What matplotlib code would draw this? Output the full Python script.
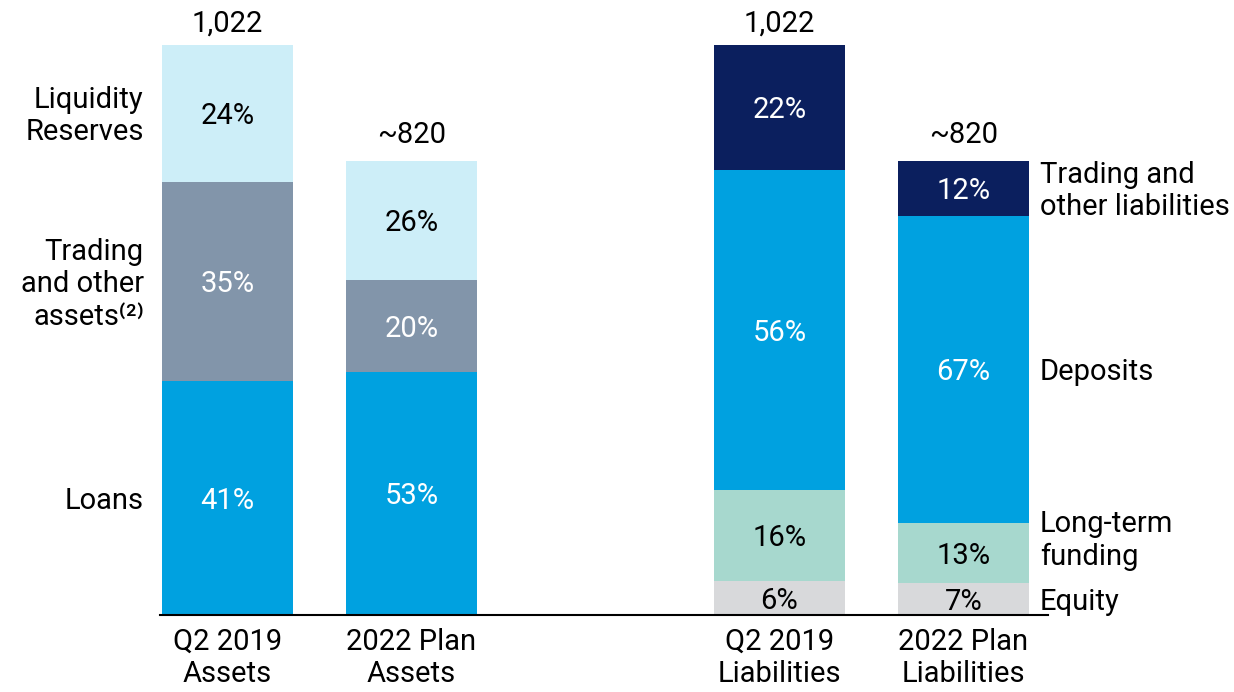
import numpy as np
import matplotlib.pyplot as plt

plt.rcParams['font.family'] = ['Roboto', 'DejaVu Sans']

cats = ['Q2 2019\nAssets', '2022 Plan\nAssets', 'Q2 2019\nLiabilities', '2022 Plan\nLiabilities']
totals = [1022, 823, 1022, 823]
total_labels = ['1,022', '~820', '1,022', '~820']

# assets: loans, trading & other, liquidity
asset_pct = {'Loans': [41, 53], 'Trading and other\nassets': [35, 20], 'Liquidity\nReserves': [24, 26]}
# liabilities: equity, long-term funding, deposits, trading & other
liab_pct = {'Equity': [6, 7], 'Long-term\nfunding': [16, 13], 'Deposits': [56, 67],
            'Trading and\nother liabilities': [22, 12]}

asset_colors = ['#00a1e0', '#8295aa', '#cdeef8']
asset_text = ['white', 'white', 'black']
liab_colors = ['#d8d9db', '#a7d8ce', '#00a1e0', '#0b1f5e']
liab_text = ['black', 'black', 'white', 'white']

xpos = np.array([0, 1, 3, 4])
w = 0.71
fs = 21

fig = plt.figure(figsize=(12.34, 6.92), dpi=100)
ax = fig.add_axes([0, 77 / 692, 1, 615 / 692])
ax.set_xlim(-1.236, 5.47)
ax.set_ylim(0, 1022 * 615 / 570)
ax.axis('off')

def stack(xs, tots, pcts, colors, tcolors):
    bottoms = np.zeros(len(xs))
    centers = []
    for (name, vals), c, tc in zip(pcts.items(), colors, tcolors):
        h = np.array(vals) * np.array(tots) / 100
        ax.bar(xs, h, w, bottom=bottoms, color=c, linewidth=0)
        for x, b, hh, v in zip(xs, bottoms, h, vals):
            ax.annotate(f'{v}%', (x, b + hh / 2), xytext=(0, -2), textcoords='offset points',
                        ha='center', va='center', fontsize=fs, color=tc)
        centers.append(bottoms[0] + h[0] / 2 if xs[0] == 0 else bottoms[-1] + h[-1] / 2)
        bottoms = bottoms + h
    return centers

ac = stack(xpos[:2], totals[:2], asset_pct, asset_colors, asset_text)
lc = stack(xpos[2:], totals[2:], liab_pct, liab_colors, liab_text)

for x, t, lab in zip(xpos, totals, total_labels):
    ax.annotate(lab, (x, t), xytext=(0, 5), textcoords='offset points',
                ha='center', va='bottom', fontsize=fs)

asset_names = ['Loans', 'Trading\nand other\nassets\u207d\u00b2\u207e', 'Liquidity\nReserves']
for name, y in zip(asset_names, ac):
    ax.annotate(name, (-w / 2 - 0.1, y), xytext=(0, -2), textcoords='offset points',
                ha='right', va='center', fontsize=fs, linespacing=1.2)

liab_offsets = [0, 15, 0, 0]
for name, y, off in zip(liab_pct.keys(), lc, liab_offsets):
    ax.annotate(name, (4 + w / 2 + 0.06, y), xytext=(0, off * 0.72 - 2), textcoords='offset points',
                ha='left', va='center', fontsize=fs, linespacing=1.2)

ax.plot([-0.367, 4.46], [0, 0], color='black', linewidth=1.5, clip_on=False)

for x, c in zip(xpos, cats):
    ax.annotate(c, (x, 0), xytext=(0, -9), textcoords='offset points',
                ha='center', va='top', fontsize=fs, linespacing=1.2, annotation_clip=False)

fig.savefig('out.png', dpi=100)
